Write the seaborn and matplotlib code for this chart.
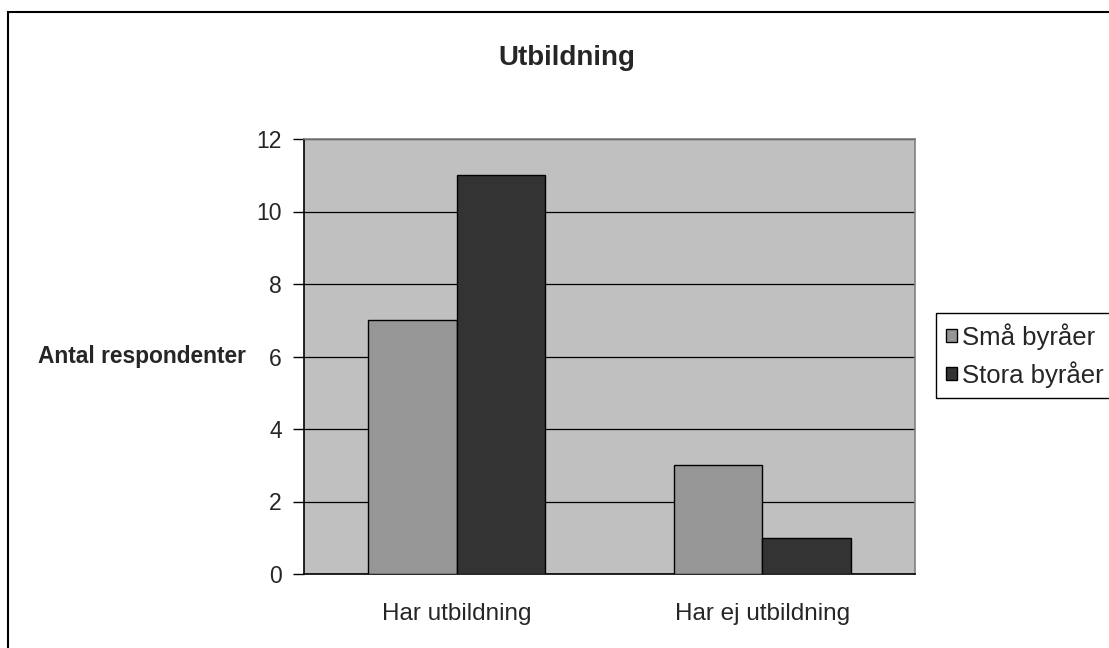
import matplotlib
matplotlib.use("Agg")
import matplotlib.pyplot as plt
from matplotlib.patches import Rectangle, Patch
import seaborn as sns
import pandas as pd

categories = ["Har utbildning", "Har ej utbildning"]
series_names = ["Små byråer", "Stora byråer"]
sma_byraer = [7, 3]
stora_byraer = [11, 1]
y_ticks = [0, 2, 4, 6, 8, 10, 12]
colors = ["#969696", "#333333"]

df = pd.DataFrame({
    "kategori": categories * 2,
    "grupp": [series_names[0]] * 2 + [series_names[1]] * 2,
    "antal": sma_byraer + stora_byraer,
})

sns.set_theme(style="white")
plt.rcParams["font.family"] = ["Liberation Sans", "DejaVu Sans"]

fig = plt.figure(figsize=(11.09, 6.48), dpi=100)
ax = fig.add_axes([304 / 1109, 1 - 574 / 648, (915 - 304) / 1109, (574 - 139) / 648])
ax.set_facecolor("#C0C0C0")

sns.barplot(data=df, x="kategori", y="antal", hue="grupp", order=categories,
            hue_order=series_names, palette=colors, width=0.58, gap=0,
            edgecolor="black", linewidth=1, saturation=1, legend=False, ax=ax, zorder=3)

ax.set_ylim(0, 12)
ax.set_xlim(-0.5, 1.5)
ax.set_yticks(y_ticks)
ax.set_yticklabels([str(v) for v in y_ticks], fontsize=16.5)
ax.yaxis.grid(True, color="black", linewidth=0.9, zorder=0)
ax.set_axisbelow(True)

ax.set_xticks([0, 1])
ax.set_xticklabels(categories, fontsize=17.5)
ax.set_xticks([-0.5, 0.5, 1.5], minor=True)
ax.tick_params(axis="x", which="major", length=0, pad=21)
ax.tick_params(axis="x", which="minor", length=8, width=1, color="black", direction="out")
ax.tick_params(axis="y", length=8, width=1, color="black", direction="out", left=True, pad=8)
ax.set_xlabel("")
ax.set_ylabel("")

for side in ["left", "bottom"]:
    ax.spines[side].set_color("black")
    ax.spines[side].set_linewidth(1.2)
for side in ["top", "right"]:
    ax.spines[side].set_color("#808080")
    ax.spines[side].set_linewidth(1.2)

fig.text(567 / 1109, 1 - 58 / 648, "Utbildning", fontsize=20, fontweight="bold",
         ha="center", va="center")
fig.text(246 / 1109, 1 - 357 / 648, "Antal respondenter", fontsize=16.4, fontweight="bold",
         ha="right", va="center")

handles = [Patch(facecolor=c, edgecolor="black", linewidth=1) for c in colors]
leg = fig.legend(handles, series_names, loc="upper left",
                 bbox_to_anchor=(936 / 1109, 1 - 313 / 648), fontsize=18.5,
                 frameon=True, fancybox=False, framealpha=1, edgecolor="black",
                 handlelength=0.42, handleheight=0.42, handletextpad=0.2,
                 labelspacing=0.44, borderpad=0.4, borderaxespad=0)
leg.get_frame().set_linewidth(1)

fig.add_artist(Rectangle((8 / 1109, -0.05), 1.2, (648 - 12) / 648 + 0.05,
                         transform=fig.transFigure, fill=False, edgecolor="black",
                         linewidth=1.5, clip_on=False))

fig.savefig("out.png", dpi=100)
